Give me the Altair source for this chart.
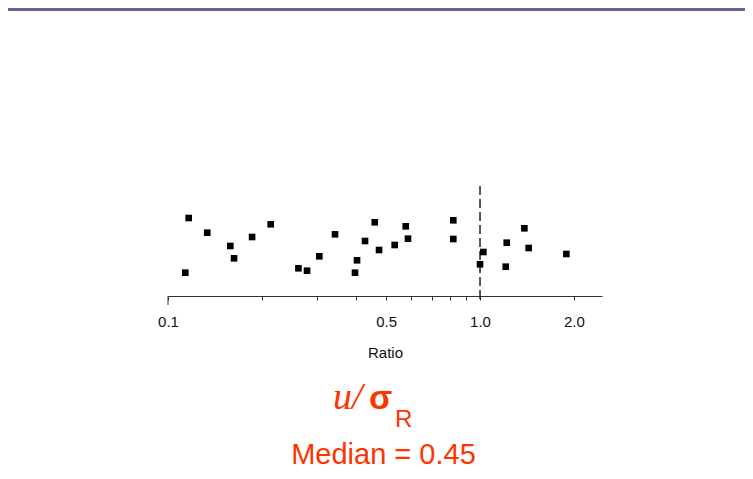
import altair as alt
import pandas as pd

# Data (ratio values, vertical jitter only for display)
ratio = [0.1165, 0.1136, 0.1336, 0.1584, 0.1628, 0.186, 0.2134, 0.2618, 0.279,
         0.3055, 0.343, 0.3975, 0.4035, 0.428, 0.4598, 0.4746, 0.5327, 0.578,
         0.5877, 0.821, 0.821, 1.025, 1.0, 1.218, 1.209, 1.387, 1.432, 1.891]
jitter = [78, 23.3, 63.3, 50, 37.7, 59, 71.7, 27.7, 25.3,
          39.7, 61.7, 23.3, 35.7, 55, 73.7, 46, 51, 69.7,
          57.3, 75.7, 57, 44, 31.7, 53.3, 29.3, 67.7, 48, 42]
tick_values = [0.1, 0.2, 0.3, 0.4, 0.5, 0.6, 0.7, 0.8, 0.9, 1.0, 2.0]
label_values = [0.1, 0.5, 1.0, 2.0]
ref_line = [1.0]
x_domain = [0.1, 2.46]
y_domain = [0, 110]
red = "#FF3300"

df = pd.DataFrame({"ratio": ratio, "jitter": jitter})
ref_df = pd.DataFrame({"ratio": ref_line})
start_df = pd.DataFrame({"ratio": [x_domain[0]]})
one = pd.DataFrame({"k": [0]})

label_list = ",".join(str(v) for v in label_values)
xscale = alt.Scale(type="log", domain=x_domain, nice=False, zero=False)

points = alt.Chart(df).mark_square(color="black", size=44, opacity=1).encode(
    x=alt.X("ratio:Q", scale=xscale,
            axis=alt.Axis(values=tick_values, title="Ratio",
                          labelExpr=f"indexof([{label_list}], datum.value) >= 0 ? format(datum.value, '.1f') : ''",
                          grid=False, tickSize=4, tickColor="#333333", domainColor="#333333",
                          labelFont="Liberation Sans", labelFontSize=15, labelColor="#111111",
                          labelPadding=14, titleFont="Liberation Sans", titleFontSize=15,
                          titleFontWeight="normal", titleColor="#111111", titlePadding=16,
                          labelFlush=False)),
    y=alt.Y("jitter:Q", scale=alt.Scale(domain=y_domain), axis=None),
)

rule = alt.Chart(ref_df).mark_rule(color="#111111", strokeWidth=1.4, strokeDash=[9, 4]).encode(
    x=alt.X("ratio:Q", scale=xscale),
    y=alt.value(0), y2=alt.value(114),
)

start_tick = alt.Chart(start_df).mark_rule(color="#333333", strokeWidth=1).encode(
    x=alt.X("ratio:Q", scale=xscale),
    y=alt.value(110), y2=alt.value(119),
)

band = alt.Chart(one).mark_rect(color="#646496").encode(
    x=alt.value(-160), x2=alt.value(577), y=alt.value(-178), y2=alt.value(-175)
)

u_txt = alt.Chart(one).mark_text(text="u/", font="Liberation Serif", fontStyle="italic",
                                 fontSize=38, color=red, align="left", baseline="alphabetic").encode(
    x=alt.value(165), y=alt.value(223))
sig_txt = alt.Chart(one).mark_text(text="σ", font="Liberation Sans", fontSize=34, fontWeight="bold",
                                   color=red, align="left", baseline="alphabetic").encode(
    x=alt.value(201), y=alt.value(223))
r_txt = alt.Chart(one).mark_text(text="R", font="Liberation Sans", fontSize=24,
                                 color=red, align="left", baseline="alphabetic").encode(
    x=alt.value(227), y=alt.value(241))
median_txt = alt.Chart(one).mark_text(text="Median = 0.45", font="Liberation Sans", fontSize=29,
                                      color=red, align="center", baseline="alphabetic").encode(
    x=alt.value(215.5), y=alt.value(278))

chart = alt.layer(band, rule, start_tick, points, u_txt, sig_txt, r_txt, median_txt).properties(
    width=434, height=110,
    autosize=alt.AutoSizeParams(type="none"),
    padding={"left": 160, "top": 178, "right": 143, "bottom": 175},
    background="white",
).configure_view(stroke=None)

chart.save("out.html", embed_options={"renderer": "svg", "actions": False})
